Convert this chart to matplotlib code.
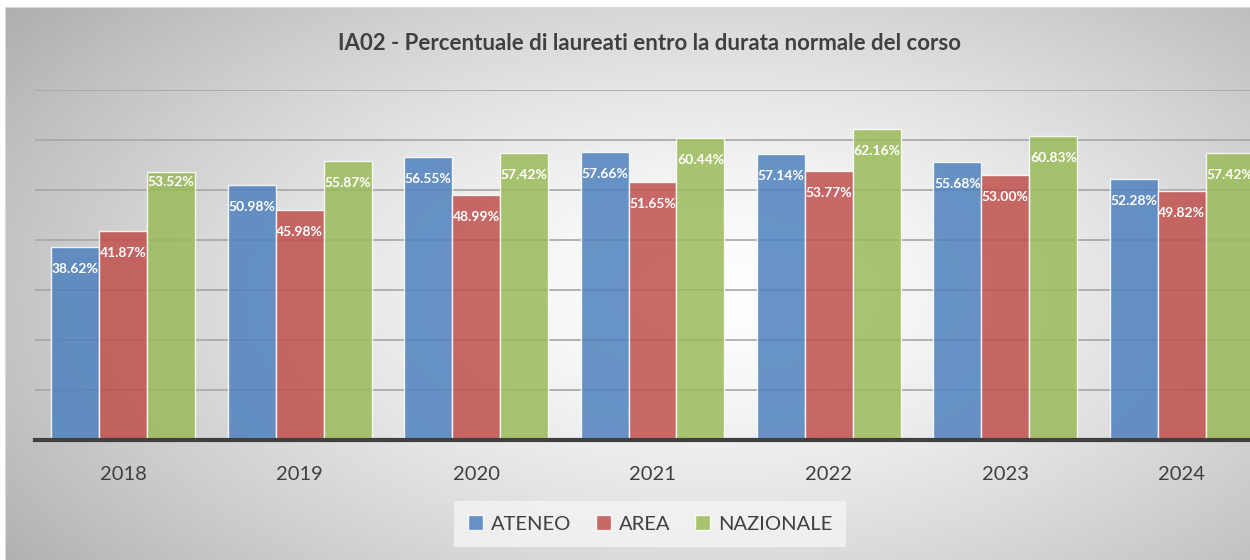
import numpy as np
import matplotlib.pyplot as plt
from matplotlib.patches import Patch

plt.rcParams["font.family"] = ["Lato", "DejaVu Sans"]

# Data
anni = ["2018", "2019", "2020", "2021", "2022", "2023", "2024"]
ateneo = [38.62, 50.98, 56.55, 57.66, 57.14, 55.68, 52.28]
area = [41.87, 45.98, 48.99, 51.65, 53.77, 53.00, 49.82]
nazionale = [53.52, 55.87, 57.42, 60.44, 62.16, 60.83, 57.42]
serie = ["ATENEO", "AREA", "NAZIONALE"]
colori = ["#4f81bd", "#c0504d", "#9bbb59"]
titolo = "IA02 - Percentuale di laureati entro la durata normale del corso"

W, H = 1250, 560
fig = plt.figure(figsize=(W / 100, H / 100), dpi=100)
fig.patch.set_facecolor("white")

# Radial gradient background of the chart frame
bg = fig.add_axes([5 / W, 0, 1 - 5 / W, 1 - 7 / H], zorder=0)
gx, gy = np.meshgrid(np.linspace(0, 1, 400), np.linspace(0, 1, 200))
r = np.sqrt(((gx - 0.57) / 0.62) ** 2 + ((gy - 0.52) / 0.75) ** 2)
shade = 1.0 - 0.26 * np.clip(r, 0, 1.3) ** 1.4
bg.imshow(np.dstack([shade] * 3), aspect="auto", extent=(0, 1, 0, 1),
          origin="upper", interpolation="bicubic")
bg.set_xticks([])
bg.set_yticks([])
for side in ["right", "bottom"]:
    bg.spines[side].set_visible(False)
bg.spines["left"].set_color("#d9d9d9")
bg.spines["top"].set_color("#d9d9d9")

# Main axes (right part runs past the image edge, as in the reference)
ax = fig.add_axes([35 / W, 120 / H, 1235 / W, 350 / H], zorder=1)
ax.patch.set_alpha(0)

x = np.arange(len(anni))
bw = 0.272
valori = [ateneo, area, nazionale]
for i, (vals, col) in enumerate(zip(valori, colori)):
    bars = ax.bar(x + (i - 1) * bw, vals, width=bw, color=col, alpha=0.85,
                  edgecolor=(1, 1, 1, 0.55), linewidth=1, zorder=3)
    for j, (b, v) in enumerate(zip(bars, vals)):
        # the first NAZIONALE label sits closer to the bar top
        off = -10 if (i == 2 and j == 0) else -22
        ax.annotate(f"{v:.2f}%", (b.get_x() + b.get_width() / 2, v),
                    xytext=(0, off), textcoords="offset pixels",
                    ha="center", va="center", color="white",
                    fontsize=10, fontweight="bold", zorder=4)

ax.set_xlim(-0.5, len(anni) - 0.5)
ax.set_ylim(0, 70)
ax.set_yticks(np.arange(0, 71, 10))
ax.yaxis.grid(True, color="#a6a6a6", linewidth=1.2, zorder=0)
ax.set_axisbelow(True)
ax.tick_params(axis="y", left=False, labelleft=False)
ax.set_xticks(x)
ax.set_xticklabels(anni, fontsize=14.5, color="#404040")
ax.tick_params(axis="x", length=0, pad=19)
for side in ["top", "right", "left"]:
    ax.spines[side].set_visible(False)
ax.spines["bottom"].set_color("#404040")
ax.spines["bottom"].set_linewidth(3)
ax.spines["bottom"].set_zorder(5)

fig.text(650 / W, 1 - 44 / H, titolo, ha="center", va="center",
         fontsize=16, fontweight="bold", color="#404040")

handles = [Patch(facecolor=c, alpha=0.85, edgecolor=(1, 1, 1, 0.55))
           for c in colori]
leg = fig.legend(handles, serie, loc="center", bbox_to_anchor=(650 / W, 1 - 524 / H),
                 ncol=3, frameon=True, fontsize=14.5, handlelength=0.75,
                 handleheight=0.75, handletextpad=0.4, columnspacing=1.2,
                 borderpad=0.7, fancybox=False)
leg.get_frame().set_facecolor("#f4f4f4")
leg.get_frame().set_edgecolor("none")
for t in leg.get_texts():
    t.set_color("#404040")

fig.savefig("out.png", dpi=100)
